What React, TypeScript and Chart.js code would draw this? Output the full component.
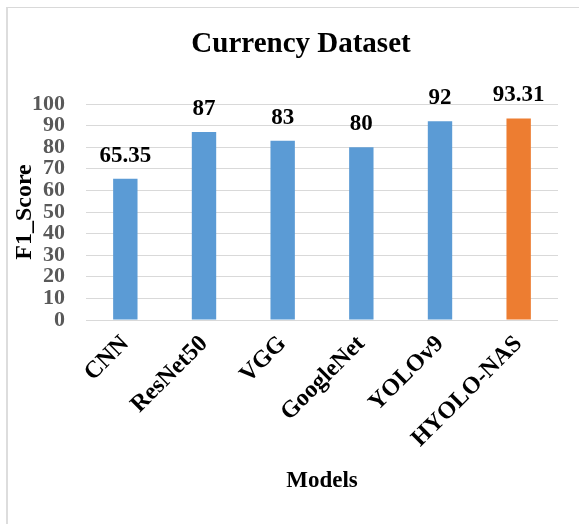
import React, { useEffect, useRef } from "react";
import { Chart, registerables } from "chart.js";

Chart.register(...registerables);

const categories = ["CNN", "ResNet50", "VGG", "GoogleNet", "YOLOv9", "HYOLO-NAS"];
const f1Scores = [65.35, 87, 83, 80, 92, 93.31];
const barColors = ["#5B9BD5", "#5B9BD5", "#5B9BD5", "#5B9BD5", "#5B9BD5", "#ED7D31"];
const chartTitle = "Currency Dataset";
const yTitle = "F1_Score";
const xTitle = "Models";

const SERIF = "'Liberation Serif', 'Times New Roman', serif";

const valueLabels = {
  id: "valueLabels",
  afterDatasetsDraw(chart: any) {
    const ctx = chart.ctx;
    const meta = chart.getDatasetMeta(0);
    ctx.save();
    ctx.font = `bold 23px ${SERIF}`;
    ctx.fillStyle = "#000000";
    ctx.textAlign = "center";
    ctx.textBaseline = "alphabetic";
    meta.data.forEach((bar: any, i: number) => {
      ctx.fillText(String(f1Scores[i]), bar.x, bar.y - 17);
    });
    ctx.restore();
  },
};

const chartHeading = {
  id: "chartHeading",
  afterDraw(chart: any) {
    const ctx = chart.ctx;
    ctx.save();
    ctx.font = `bold 29px ${SERIF}`;
    ctx.fillStyle = "#000000";
    ctx.textAlign = "center";
    ctx.textBaseline = "middle";
    ctx.fillText(chartTitle, 301, 45);
    ctx.restore();
  },
};

export default function App() {
  const ref = useRef<HTMLCanvasElement | null>(null);

  useEffect(() => {
    if (!ref.current) return;
    const chart = new Chart(ref.current, {
      type: "bar",
      data: {
        labels: categories,
        datasets: [
          {
            data: f1Scores,
            backgroundColor: barColors,
            borderWidth: 0,
            barPercentage: 0.31,
            categoryPercentage: 1,
          },
        ],
      },
      options: {
        responsive: false,
        animation: false,
        layout: { padding: { top: 104, left: 0, right: 21, bottom: 0 } },
        plugins: {
          legend: { display: false },
          tooltip: { enabled: false },
          title: { display: false },
        },
        scales: {
          x: {
            grid: { display: false, drawTicks: false },
            border: { display: false },
            ticks: {
              autoSkip: false,
              minRotation: 45,
              maxRotation: 45,
              padding: 10,
              color: "#000000",
              font: { family: SERIF, size: 24, weight: "bold" },
            },
            title: {
              display: true,
              text: xTitle,
              color: "#000000",
              font: { family: SERIF, size: 23, weight: "bold" },
              padding: { top: 0, bottom: 29 },
            },
            afterFit(scale: any) {
              scale.height = 204;
            },
          },
          y: {
            min: 0,
            max: 100,
            grid: { color: "#D9D9D9", lineWidth: 1, drawTicks: false },
            border: { display: false },
            ticks: {
              stepSize: 10,
              autoSkip: false,
              padding: 21,
              color: "#595959",
              font: { family: SERIF, size: 22, weight: "bold", lineHeight: 1 },
            },
            title: {
              display: true,
              text: yTitle,
              color: "#000000",
              font: { family: SERIF, size: 24, weight: "bold" },
              padding: { top: 10, bottom: 0 },
            },
            afterFit(scale: any) {
              scale.width = 86;
            },
          },
        },
      },
      plugins: [valueLabels, chartHeading],
    });
    return () => chart.destroy();
  }, []);

  return (
    <div style={{ position: "fixed", left: 0, top: 0, width: 579, height: 524, background: "#ffffff", overflow: "hidden" }}>
      <div
        style={{
          position: "absolute",
          left: 6,
          top: 7,
          width: 600,
          height: 600,
          borderLeft: "2px solid #DDDDDD",
          borderTop: "1px solid #D9D9D9",
        }}
      />
      <canvas ref={ref} width={579} height={524} style={{ position: "absolute", left: 0, top: 0, display: "block" }} />
    </div>
  );
}
